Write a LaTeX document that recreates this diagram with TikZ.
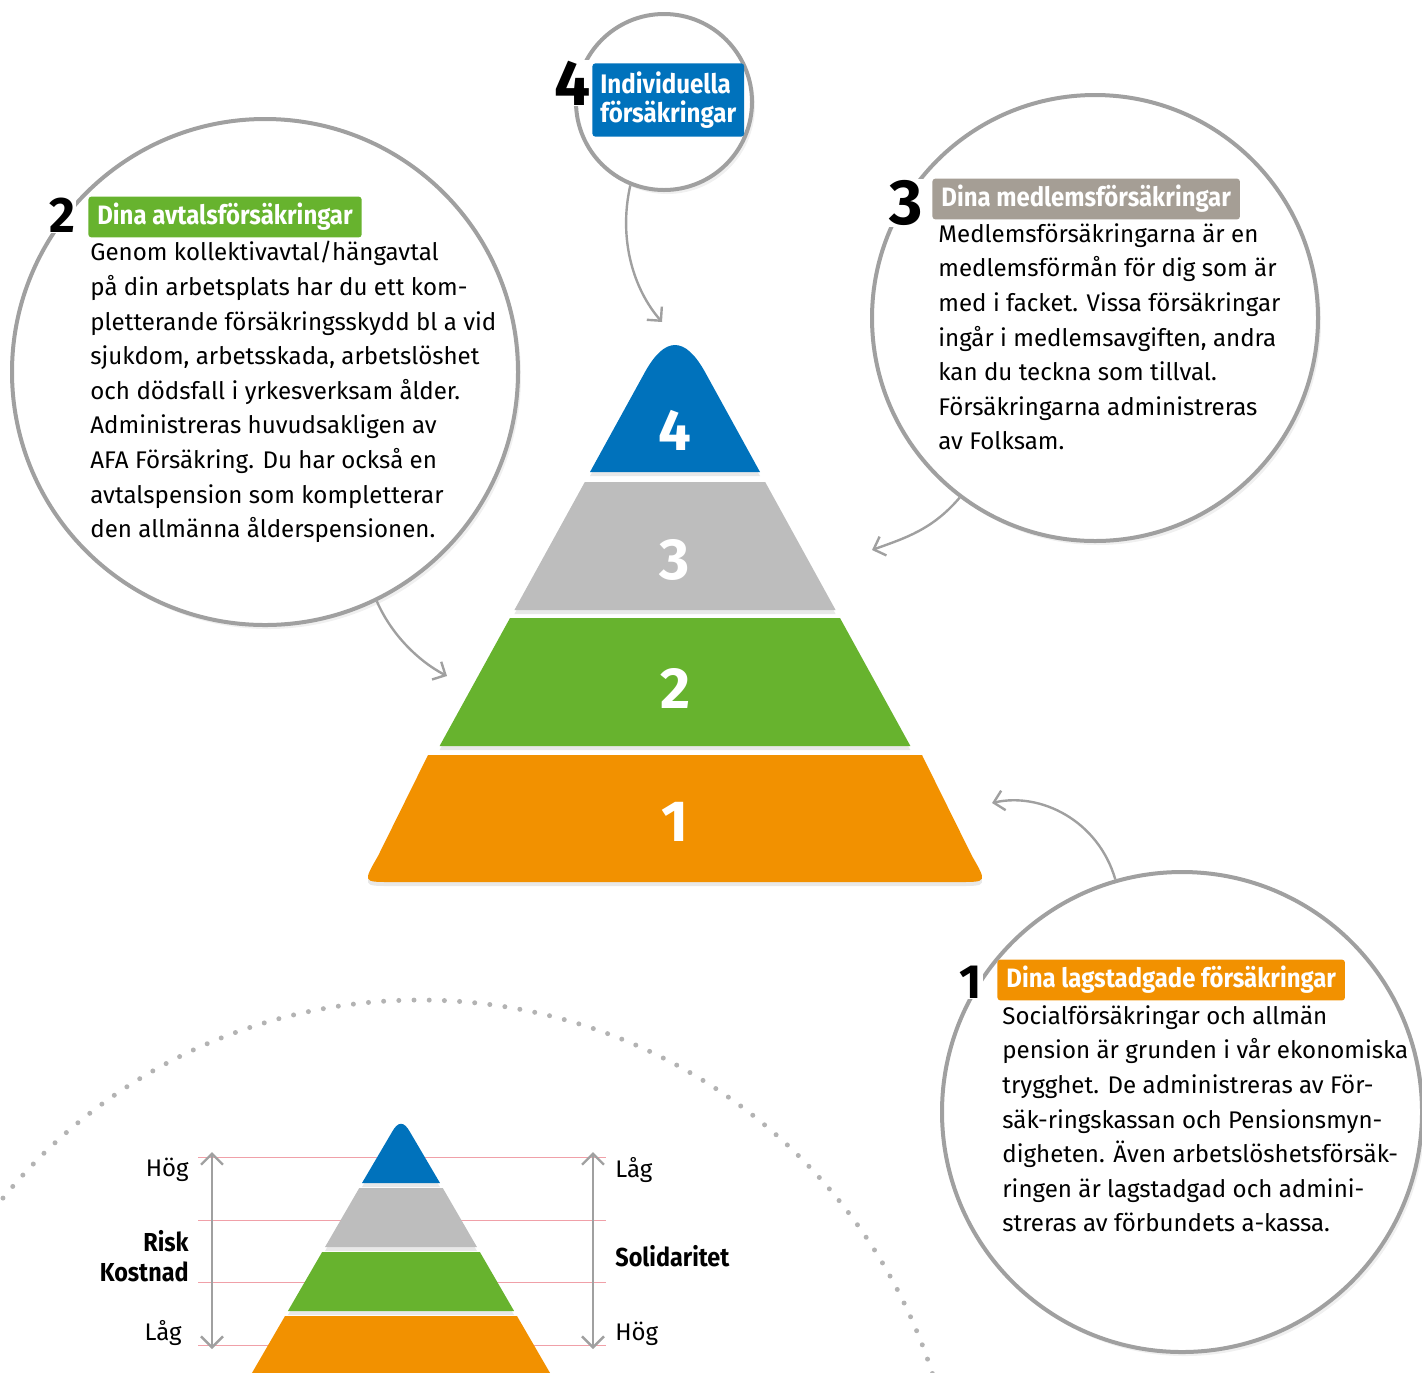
\documentclass[tikz,border=0pt]{standalone}
\usepackage{fontspec}
\setmainfont{Fira Sans}
\newfontfamily\condfont[FakeStretch=0.9]{Fira Sans}
\usetikzlibrary{calc}
\usetikzlibrary{arrows.meta}
\usetikzlibrary{shadows}
\definecolor{fblue}{HTML}{0072BC}
\definecolor{fgray}{HTML}{BDBDBD}
\definecolor{fgreen}{HTML}{67B32E}
\definecolor{forange}{HTML}{F29100}
\definecolor{ftaupe}{HTML}{A59E95}
\definecolor{fline}{HTML}{A0A0A0}
\definecolor{fred}{HTML}{F0A0A8}
\tikzset{
  bubble/.style={circle, draw=fline, line width=2pt, fill=white, inner sep=0pt,
    drop shadow={opacity=.12, shadow xshift=1.5pt, shadow yshift=-2pt}},
  tag/.style={anchor=west, text=white, inner xsep=4.5pt, minimum height=16pt, rounded corners=1.5pt,
    font=\condfont\bfseries\fontsize{13.3}{14}\selectfont},
  bodytext/.style={anchor=north west, align=left, inner sep=0pt, font=\fontsize{12.05}{17.3}\selectfont},
  bignum/.style={fill=white, inner sep=0.6pt},
  levelnum/.style={text=white, font=\bfseries\fontsize{29}{29}\selectfont},
  smalltext/.style={inner sep=0pt, font=\fontsize{12}{15}\selectfont},
  pointer/.style={draw=fline, line width=1.2pt, -{Straight Barb[length=5pt, width=10pt]}},
  span/.style={draw=fline, line width=1.2pt, {Straight Barb[length=5.5pt, width=11pt]}-{Straight Barb[length=5.5pt, width=11pt]}},
  bandshadow/.style={drop shadow={opacity=.18, shadow xshift=0pt, shadow yshift=-2pt}}
}

\begin{document}
\begin{tikzpicture}[x=0.5pt, y=-0.5pt]
\useasboundingbox (0,0) rectangle (1422,1372);

\draw[draw=fline!80, line width=2.5pt, line cap=round, dash pattern=on 0pt off 7.6pt] (420,1538) circle (269pt);

\node[bubble, minimum size=253pt] (b2) at (265,372) {};
\node[bubble, minimum size=223pt] (b3) at (1095,318) {};
\node[bubble, minimum size=240pt] (b1) at (1182,1112) {};
\node[bubble, minimum size=88pt] (b4) at (664,102) {};

% big pyramid
\fill[fblue, bandshadow] (590,472) -- (645,372) .. controls (665,336) and (685,336) .. (705,372) -- (760,472) -- cycle;
\foreach \ya/\yb/\col in {482/610/fgray, 618/746/fgreen}
  \fill[\col, bandshadow] ({675-0.55*(\ya-318)},\ya) -- ({675+0.55*(\ya-318)},\ya)
    -- ({675+0.55*(\yb-318)},\yb) -- ({675-0.55*(\yb-318)},\yb) -- cycle;
\fill[forange, bandshadow] (428,755) -- (922,755) -- (972,856) .. controls (987,882) .. (960,882)
  -- (390,882) .. controls (363,882) .. (378,856) -- cycle;
\node[levelnum] (n4) at (675,430) {4};
\node[levelnum] (n3) at (675,560) {3};
\node[levelnum] (n2) at (675,688) {2};
\node[levelnum] (n1) at (675,822) {1};

\coordinate (t4) at (662,322);
\coordinate (t3) at (872,550);
\coordinate (t2) at (447,676);
\coordinate (t1) at (992,803);
\draw[pointer] (b4.-112) .. controls (618,240) and (634,290) .. (t4);
\draw[pointer] (b3.-127) .. controls (932,530) and (905,538) .. (t3);
\draw[pointer] (b2.-64) .. controls (392,636) and (420,662) .. (t2);
\draw[pointer] (b1.106) .. controls (1098,820) and (1040,792) .. (t1);

% headings
\node[tag, fill=fgreen] (h2) at (88,217) {Dina avtalsförsäkringar};
\node[tag, fill=ftaupe] (h3) at (932,199) {Dina medlemsförsäkringar};
\node[tag, fill=forange] (h1) at (997,980) {Dina lagstadgade försäkringar};
\node[tag, fill=fblue, align=left, inner xsep=4pt, inner ysep=4pt, font=\condfont\bfseries\fontsize{13.4}{14.8}\selectfont] (h4) at (592,100) {Individuella\\försäkringar};

\node[bignum, font=\bfseries\fontsize{25}{25}\selectfont] (num2) at (62,215) {2};
\node[bignum, font=\bfseries\fontsize{32}{32}\selectfont] (num3) at (906,203) {3};
\node[bignum, font=\bfseries\fontsize{24}{24}\selectfont] (num1) at (971,982) {1};
\node[bignum, font=\bfseries\fontsize{32}{32}\selectfont] (num4) at (573,83) {4};

\node[bodytext] (p2) at (90,241) {Genom kollektivavtal/hängavtal\\
på din arbetsplats har du ett kom-\\
pletterande försäkringsskydd bl a vid\\
sjukdom, arbetsskada, arbetslöshet\\
och dödsfall i yrkesverksam ålder.\\
Administreras huvudsakligen av\\
AFA Försäkring. Du har också en\\
avtalspension som kompletterar\\
den allmänna ålderspensionen.};
\node[bodytext] (p3) at (938,223) {Medlemsförsäkringarna är en\\
medlemsförmån för dig som är\\
med i facket. Vissa försäkringar\\
ingår i medlemsavgiften, andra\\
kan du teckna som tillval.\\
Försäkringarna administreras\\
av Folksam.};
\node[bodytext] (p1) at (1002,1005) {Socialförsäkringar och allmän\\
pension är grunden i vår ekonomiska\\
trygghet. De administreras av För-\\
säk-ringskassan och Pensionsmyn-\\
digheten. Även arbetslöshetsförsäk-\\
ringen är lagstadgad och admini-\\
streras av förbundets a-kassa.};

% small pyramid
\foreach \y in {1157,1220,1282,1345}
  \draw[fred, line width=0.5pt] (198,\y) -- (606,\y);
\fill[fblue, bandshadow] (362,1183) -- (392,1132) .. controls (398,1121) and (404,1121) .. (410,1132) -- (440,1183) -- cycle;
\foreach \ya/\yb/\col in {1188/1247/fgray, 1252/1311/fgreen, 1316/1385/forange}
  \fill[\col, bandshadow] ({401-0.58*(\ya-1116)},\ya) -- ({401+0.58*(\ya-1116)},\ya)
    -- ({401+0.58*(\yb-1116)},\yb) -- ({401-0.58*(\yb-1116)},\yb) -- cycle;

\coordinate (lt) at (212,1152);
\coordinate (lb) at (212,1349);
\coordinate (rt) at (593,1152);
\coordinate (rb) at (593,1349);
\draw[span] (lt) -- (lb);
\draw[span] (rt) -- (rb);
\node[smalltext, anchor=east] (lhi) at (189,1170) {Hög};
\node[smalltext, anchor=east, align=right, font=\condfont\bfseries\fontsize{13}{15}\selectfont] (risk) at (189,1256) {Risk\\Kostnad};
\node[smalltext, anchor=east] (llo) at (182,1333) {Låg};
\node[smalltext, anchor=west] (rlo) at (615,1170) {Låg};
\node[smalltext, anchor=west, font=\condfont\bfseries\fontsize{13}{15}\selectfont] (sol) at (615,1256) {Solidaritet};
\node[smalltext, anchor=west] (rhi) at (615,1334) {Hög};
\end{tikzpicture}
\end{document}
